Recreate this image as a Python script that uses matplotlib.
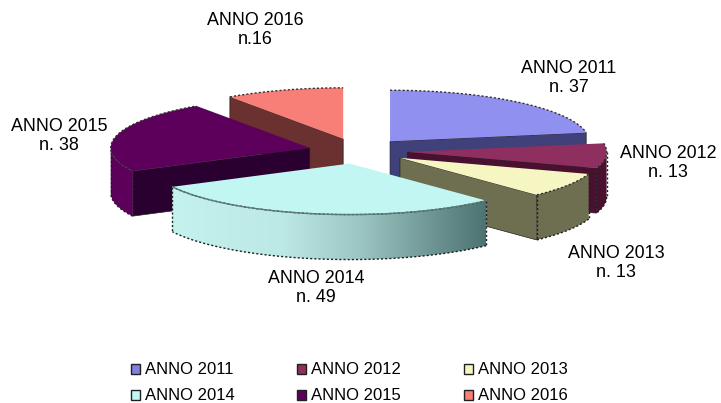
import numpy as np
import matplotlib
matplotlib.use("Agg")
import matplotlib.pyplot as plt
from matplotlib.colors import LinearSegmentedColormap
from matplotlib.patches import Patch, Polygon

plt.rcParams['font.family'] = ['Liberation Sans', 'DejaVu Sans']

years = ['ANNO 2011', 'ANNO 2012', 'ANNO 2013', 'ANNO 2014', 'ANNO 2015', 'ANNO 2016']
counts = [37, 13, 13, 49, 38, 16]
count_labels = ['n. 37', 'n. 13', 'n. 13', 'n. 49', 'n. 38', 'n.16']

top_colors = ['#9090f0', '#8f2f60', '#f6f6c2', '#c2f6f3', '#5c005c', '#f77f78']
legend_colors = ['#8080e0', '#8f2f60', '#f6f6c2', '#c2f6f3', '#5c005c', '#f77f78']
side_colors = ['#40407a', '#4a1030', '#6e6e50', '#c2f6f3', '#2a0030', '#6b3030']
arc_colors = ['#40407a', '#4a1030', '#6e6e50', '#c2f6f3', '#5c005c', '#6b3030']

# label centres in pixels
label_x = [569, 668, 616, 316, 59, 255]
label_y = [78, 163, 263, 288, 136, 30]

#pie geometry, in pixels of the picture
cx, cy = 358, 151
rx, ry = 199, 51
depth = 45
explode = 0.25


def rim(t):
    #point on the ellipse, t is degrees clockwise from the top
    t = np.radians(t)
    return rx*np.sin(t), -ry*np.cos(t)


fig = plt.figure(figsize=(7.21, 4.03), dpi=100)
ax = fig.add_axes([0, 0, 1, 1])

edges = np.cumsum([0]+counts)/sum(counts)*360
# back slices first, the big front one last
draw_order = [5, 0, 4, 1, 2, 3]
dots = (0, (1.5, 1.5))

for z, i in enumerate(draw_order):
    a, b = edges[i], edges[i+1]
    mid = (a+b)/2
    ex, ey = rim(mid)
    ox, oy = cx+explode*ex, cy+explode*ey

    ts = np.linspace(a, b, 80)
    xs, ys = rim(ts)
    xs, ys = xs+ox, ys+oy

    #radial cut faces that look towards the viewer
    for t, visible in ((a, np.sin(np.radians(a)) < -1e-6), (b, np.sin(np.radians(b)) > 1e-6)):
        if visible:
            px, py = rim(t)
            ax.add_patch(Polygon([(ox, oy), (ox+px, oy+py), (ox+px, oy+py+depth), (ox, oy+depth)],
                                 fc=side_colors[i], ec='#202020', lw=0.5, zorder=z+1))

    #outer wall, front half only
    lo, hi = max(a, 90), min(b, 270)
    if lo < hi:
        tw = np.linspace(lo, hi, 80)
        wx, wy = rim(tw)
        wx, wy = wx+ox, wy+oy
        wall = np.column_stack([np.r_[wx, wx[::-1]], np.r_[wy, wy[::-1]+depth]])
        poly = Polygon(wall, fc=arc_colors[i], ec='none', zorder=z+1.1)
        ax.add_patch(poly)
        if i == 3:
            cmap = LinearSegmentedColormap.from_list(
                'wall', [(0, '#c4f2ef'), (0.35, '#bce8e5'), (0.6, '#9cc6c3'), (0.85, '#6a918f'), (1, '#4e7472')])
            im = ax.imshow(np.linspace(0, 1, 256).reshape(1, -1), cmap=cmap, aspect='auto',
                           extent=[wx.min(), wx.max(), wy.max()+depth, wy.min()], zorder=z+1.2)
            im.set_clip_path(poly)
        ax.plot(wx, wy+depth, color='#202020', lw=1, ls=dots, zorder=z+1.3)
        ax.plot([wx[0], wx[0]], [wy[0], wy[0]+depth], color='#202020', lw=1, ls=dots, zorder=z+1.3)
        ax.plot([wx[-1], wx[-1]], [wy[-1], wy[-1]+depth], color='#202020', lw=1, ls=dots, zorder=z+1.3)

    #top of the slice
    ax.add_patch(Polygon(np.column_stack([np.r_[ox, xs], np.r_[oy, ys]]),
                         fc=top_colors[i], ec='none', zorder=z+1.4))
    ax.plot(xs, ys, color='#303030', lw=1, ls=dots, zorder=z+1.5)
    if i == 3:
        ax.plot(xs, ys, color='#5a7a78', lw=1, zorder=z+1.5)

for name, n, x, y in zip(years, count_labels, label_x, label_y):
    ax.text(x, y, name+'\n'+n, ha='center', va='center', fontsize=12.9, color='black',
            linespacing=1.15, zorder=20)

# matplotlib fills legend columns first, the picture reads by rows
rows = [0, 3, 1, 4, 2, 5]
handles = [Patch(fc=legend_colors[i], ec='#202020', lw=1, label=years[i]) for i in rows]
leg = ax.legend(handles=handles, ncol=3, loc='center', bbox_to_anchor=(349/721, 1-383/403),
                frameon=False, fontsize=12, handlelength=0.55, handleheight=0.55,
                handletextpad=0.3, columnspacing=3.75, labelspacing=0.66, borderpad=0, borderaxespad=0)
leg.set_zorder(20)

ax.set_xlim(0, 721)
ax.set_ylim(403, 0)
ax.axis('off')
fig.savefig('out.png', dpi=100)
